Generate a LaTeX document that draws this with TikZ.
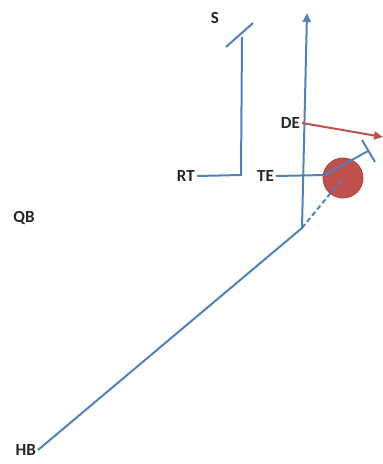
\documentclass[tikz,border=0pt]{standalone}
\usepackage{fontspec}
\setmainfont{Carlito}
\usetikzlibrary{arrows.meta}
\definecolor{routeblue}{HTML}{4F81BD}
\definecolor{rushred}{HTML}{C0504D}
\tikzset{
  player/.style={font=\bfseries\fontsize{17}{17}\selectfont,inner sep=2pt,text=black!85},
  route/.style={draw=routeblue,line width=2pt},
  rush/.style={draw=rushred,line width=2pt},
}

\begin{document}
\begin{tikzpicture}[x=1pt,y=-1pt,>={Triangle[length=9pt,width=8pt]}]
  \useasboundingbox (0,0) rectangle (383,464);
  % players
  \node[player] (qb) at (24,218) {QB};
  \node[player,anchor=east] (hb) at (38,450) {HB};
  \node[player,anchor=east] (rt) at (197,176) {RT};
  \node[player,anchor=east] (te) at (276,176) {TE};
  \node[player,anchor=east] (de) at (302,123) {DE};
  \node[player] (s) at (215,18) {S};
  \node[circle,fill=rushred,draw=rushred!85!black,line width=0.8pt,minimum size=40pt] (hole) at (343,178) {};
  % route points
  \coordinate (cut) at (302,228);
  \coordinate (deep) at (307,13);
  \coordinate (rtup) at (241,175);
  \coordinate (rttop) at (242,37);
  \coordinate (tebend) at (325,175);
  \coordinate (teblk) at (368,151);
  \coordinate (deend) at (383,137);
  % HB runs up the seam, QB fakes to the hole
  \draw[route,->] (hb.east) -- (cut) -- (deep);
  \draw[route,dashed,dash pattern=on 5pt off 3pt] (cut) -- (hole.center);
  % blocks
  \draw[route] (rt.east) -- (rtup) -- (rttop);
  \draw[route] (226,47) -- (253,23);
  \draw[route] (te.east) -- (tebend) -- (teblk);
  \draw[route] (362,140) -- (375,162);
  % DE rush
  \draw[rush,->] (de.east) -- (deend);
\end{tikzpicture}
\end{document}
